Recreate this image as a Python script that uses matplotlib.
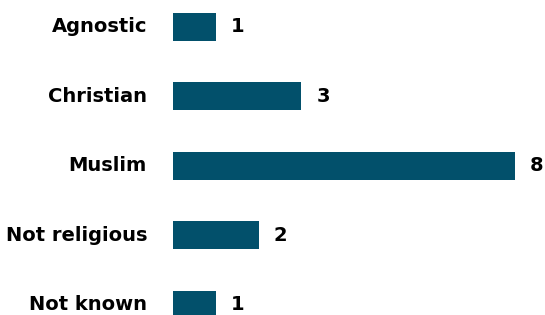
import matplotlib
matplotlib.use("Agg")
import matplotlib.pyplot as plt

categories = ["Agnostic", "Christian", "Muslim", "Not religious", "Not known"]
counts = [1, 3, 8, 2, 1]

bar_color = "#02506B"

fig = plt.figure(figsize=(5.45, 3.15), dpi=100)
ax = fig.add_axes([173 / 545, 0, 372 / 545, 1])

ypos = list(range(len(categories)))
ax.barh(ypos, counts, height=0.40, color=bar_color)

ax.set_xlim(0, 372 / 42.75)
ax.set_ylim(4 + 10.3 / 69.5, -26.7 / 69.5)

for y, name, v in zip(ypos, categories, counts):
    ax.annotate(name, xy=(0, y), xytext=(-26, 0), textcoords="offset pixels",
                ha="right", va="center", fontsize=14, fontweight="bold",
                color="black", annotation_clip=False)
    ax.annotate(str(v), xy=(v, y), xytext=(15, 0), textcoords="offset pixels",
                ha="left", va="center", fontsize=14, fontweight="bold",
                color="black", annotation_clip=False)

ax.axis("off")
fig.savefig("out.png", dpi=100)
